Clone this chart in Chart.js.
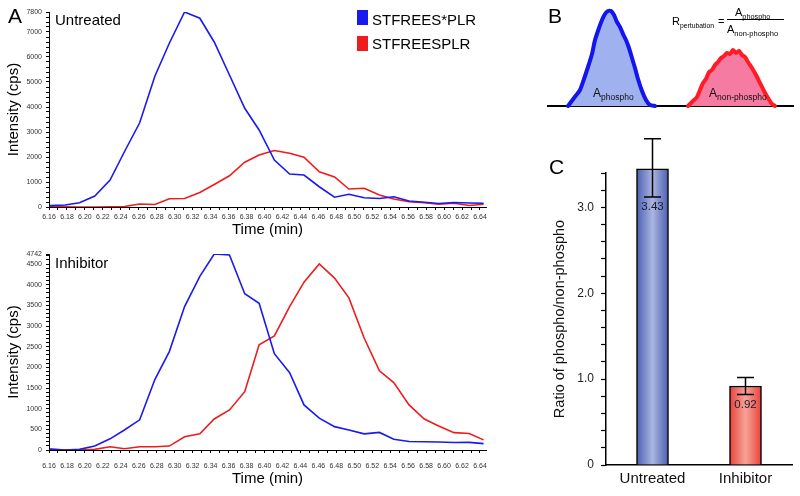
<!DOCTYPE html>
<html><head><meta charset="utf-8">
<script src="https://cdn.jsdelivr.net/npm/chart.js@4.4.1/dist/chart.umd.min.js"></script>
<style>
body{margin:0;background:#fff;}
#wrap{position:relative;width:800px;height:496px;overflow:hidden;background:#fff;font-family:'Liberation Sans',Arial,sans-serif;color:#000;}
canvas{position:absolute;}
.t{position:absolute;white-space:nowrap;line-height:1;}
.s{position:relative;top:3px;}
</style></head><body>
<div id="wrap">
<canvas id="cTop" width="500" height="240" style="left:0;top:0"></canvas>
<canvas id="cBot" width="500" height="256" style="left:0;top:240px"></canvas>
<canvas id="cB" width="260" height="115" style="left:540px;top:0"></canvas>
<canvas id="cC" width="260" height="376" style="left:540px;top:120px"></canvas>

<div class="t" style="left:8px;top:5px;font-size:21px">A</div>
<div class="t" style="left:548px;top:5px;font-size:21px">B</div>
<div class="t" style="left:549px;top:156px;font-size:21px">C</div>
<div class="t" style="left:55px;top:11.5px;font-size:15px">Untreated</div>
<div class="t" style="left:55px;top:255px;font-size:15px">Inhibitor</div>

<div style="position:absolute;left:357px;top:9.5px;width:10.5px;height:15.5px;background:#1a1aee"></div>
<div style="position:absolute;left:357px;top:36px;width:10.5px;height:15px;background:#ee1c1c"></div>
<div class="t" id="lg1" style="left:372px;top:11.5px;font-size:15px"></div>
<div class="t" id="lg2" style="left:372px;top:35.5px;font-size:15px"></div>

<div class="t" style="left:672px;top:16px;font-size:11px">R<span class="s" style="font-size:6.8px">pertubation</span></div>
<div class="t" style="left:718px;top:16px;font-size:11px">=</div>
<div style="position:absolute;left:727px;top:19px;width:57px;height:1px;background:#000"></div>
<div class="t" style="left:735px;top:6.5px;font-size:11px">A<span class="s" style="font-size:7.3px">phospho</span></div>
<div class="t" style="left:727px;top:23.5px;font-size:11px">A<span class="s" style="font-size:7.5px">non-phospho</span></div>

<div class="t" style="left:593px;top:87px;font-size:12px;color:#111">A<span class="s" style="font-size:8.5px">phospho</span></div>
<div class="t" style="left:709px;top:87px;font-size:12px;color:#111">A<span class="s" style="font-size:8.5px">non-phospho</span></div>
</div>
<script>
// ---------- Panel A data ----------
const seriesNames = ['STFREES*PLR', 'STFREESPLR'];
const times = [6.161,6.178,6.194,6.211,6.228,6.244,6.261,6.278,6.294,6.311,6.328,6.344,6.361,6.378,6.394,6.411,6.428,6.444,6.461,6.478,6.494,6.511,6.528,6.544,6.561,6.578,6.594,6.611,6.628,6.644];
const untreatedPhospho = [55,80,170,440,1080,2210,3370,5240,6550,7800,7550,6600,5280,3950,3080,1880,1320,1280,810,390,510,370,340,410,240,190,140,180,160,150];
const untreatedNonPhospho = [20,5,0,0,5,20,120,100,330,340,580,900,1250,1790,2080,2260,2150,1990,1410,1200,720,750,480,320,210,170,110,150,60,110];
const inhibitorPhospho = [25,0,15,95,270,485,730,1710,2380,3470,4200,4742,4720,3780,3550,2330,1870,1090,770,565,485,390,425,260,205,200,195,180,185,155];
const inhibitorNonPhospho = [15,0,0,15,80,30,80,80,95,320,390,750,970,1410,2545,2760,3470,4060,4500,4160,3680,2710,1915,1630,1090,750,580,420,400,245];
const xTickLabels = ['6.16','6.18','6.20','6.22','6.24','6.26','6.28','6.30','6.32','6.34','6.36','6.38','6.40','6.42','6.44','6.46','6.48','6.50','6.52','6.54','6.56','6.58','6.60','6.62','6.64'];
const topYTickLabels = [0,1000,2000,3000,4000,5000,6000,7000,7800];
const botYTickLabels = [0,500,1000,1500,2000,2500,3000,3500,4000,4500,4742];

// ---------- Panel B schematic peaks ----------
const bPhosphoX = [20,26,32,36,40,44,47,51,54,57,60,63,66,69,72,75,78,81,84,87,90,94,98,102,107];
const bPhosphoY = [0,8,16,27,39,52,66,78,86,92,95,95,91,84,79,72,66,58,48,38,27,15,6,1,0];
const bNonPhosphoX = [140,144,149,152,155,158,161,164,167,170,173,176,179,182,185,188,191,194,197,200,204,208,212,216,220,224,227];
const bNonPhosphoY = [0,4,9,16,23,27,34,36,41,44,48,50,53,52,56,53,55,51,49,44,38,31,23,15,8,2,0];

// ---------- Panel C data ----------
const cCategories = ['Untreated','Inhibitor'];
const cRatios = [3.45, 0.92];
const cErrLow = [3.12, 0.82];
const cErrHigh = [3.80, 1.02];
const cValueLabels = ['3.43','0.92'];
const cTickLabels = [0,1,2,3];

const SANS = "'Liberation Sans', Arial, sans-serif";
const NARROW = "'Liberation Sans Narrow', 'Liberation Sans', Arial, sans-serif";
const BLUE = '#1a1aee', RED = '#ee1c1c';

document.getElementById('lg1').textContent = seriesNames[0];
document.getElementById('lg2').textContent = seriesNames[1];

function chroma(id, a, b, yMax, yLabs, yStep, pad, xH, xLabPad, xTitlePad) {
  return new Chart(document.getElementById(id), {
    type: 'line',
    data: { datasets: [
      { label: seriesNames[0], data: times.map((t,i)=>({x:t, y:a[i]})), borderColor: BLUE, borderWidth: 1.6, pointRadius: 0, tension: 0, fill: false },
      { label: seriesNames[1], data: times.map((t,i)=>({x:t, y:b[i]})), borderColor: RED, borderWidth: 1.6, pointRadius: 0, tension: 0, fill: false }
    ]},
    options: {
      responsive: false, animation: false, devicePixelRatio: 1,
      layout: { padding: pad },
      plugins: { legend: { display: false }, tooltip: { enabled: false } },
      scales: {
        x: {
          type: 'linear', min: 6.16, max: 6.6467,
          afterBuildTicks(s) { const arr = []; for (let v = 616; v <= 664; v++) arr.push({ value: v / 100 }); s.ticks = arr; },
          afterFit(s) { s.height = xH; },
          ticks: { autoSkip: false, maxRotation: 0, minRotation: 0, padding: xLabPad, font: { family: NARROW, size: 7 }, color: '#333',
            callback: (v) => { const s = Number(v).toFixed(2); return xTickLabels.includes(s) ? s : ''; } },
          grid: { drawOnChartArea: false, drawTicks: true, tickLength: 3, tickColor: '#000', tickWidth: 1 },
          border: { display: true, color: '#000', width: 1 },
          title: { display: true, text: 'Time (min)', font: { family: SANS, size: 15 }, color: '#000', padding: { top: 0, bottom: xTitlePad } }
        },
        y: {
          min: 0, max: yMax,
          afterBuildTicks(s) { const arr = []; for (let v = 0; v <= yMax; v += yStep) arr.push({ value: v }); if (arr[arr.length-1].value !== yMax) arr.push({ value: yMax }); s.ticks = arr; },
          afterFit(s) { s.width = 49; },
          ticks: { autoSkip: false, padding: 4, font: { family: NARROW, size: 7 }, color: '#333',
            callback: (v) => yLabs.includes(v) ? String(v) : '' },
          grid: { drawOnChartArea: false, drawTicks: true, tickLength: 3, tickColor: '#000', tickWidth: 1 },
          border: { display: true, color: '#000', width: 1 },
          title: { display: true, text: 'Intensity (cps)', font: { family: SANS, size: 15 }, color: '#000', padding: { top: 5, bottom: 0 } }
        }
      }
    }
  });
}

chroma('cTop', untreatedPhospho, untreatedNonPhospho, 7800, topYTickLabels, 200, { top: 12, right: 14, bottom: 0, left: 0 }, 33, 3, 1);
chroma('cBot', inhibitorPhospho, inhibitorNonPhospho, 4742, botYTickLabels, 100, { top: 14, right: 14, bottom: 6, left: 0 }, 40, 9, 2);

// Panel B
new Chart(document.getElementById('cB'), {
  type: 'line',
  data: { datasets: [
    { data: bPhosphoX.map((x,i)=>({x, y:bPhosphoY[i]})), borderColor: '#1414ee', backgroundColor: '#9fb2ef', fill: 'origin', borderWidth: 4, pointRadius: 0, tension: 0.2, clip: false, borderJoinStyle: 'round', borderCapStyle: 'round' },
    { data: bNonPhosphoX.map((x,i)=>({x, y:bNonPhosphoY[i]})), borderColor: '#ff1c24', backgroundColor: '#f57ba2', fill: 'origin', borderWidth: 4, pointRadius: 0, tension: 0.2, clip: false, borderJoinStyle: 'round', borderCapStyle: 'round' }
  ]},
  options: {
    responsive: false, animation: false, devicePixelRatio: 1,
    layout: { padding: { left: 8, right: 7, top: 6, bottom: 9 } },
    plugins: { legend: { display: false }, tooltip: { enabled: false } },
    scales: {
      x: { type: 'linear', min: 0, max: 245, ticks: { display: false }, grid: { display: false },
           border: { display: true, color: '#000', width: 2 }, afterFit(s) { s.height = 0; } },
      y: { min: 0, max: 100, display: false }
    }
  }
});

// Panel C
const errPlugin = {
  id: 'errbars',
  afterDatasetsDraw(chart) {
    const ctx = chart.ctx, y = chart.scales.y, meta = chart.getDatasetMeta(0);
    ctx.save();
    ctx.strokeStyle = '#000'; ctx.lineWidth = 1.5;
    meta.data.forEach((bar, i) => {
      const x = bar.x, yh = y.getPixelForValue(cErrHigh[i]), yl = y.getPixelForValue(cErrLow[i]);
      ctx.beginPath();
      ctx.moveTo(x, yh); ctx.lineTo(x, yl);
      ctx.moveTo(x - 8.5, yh); ctx.lineTo(x + 8.5, yh);
      ctx.moveTo(x - 8.5, yl); ctx.lineTo(x + 8.5, yl);
      ctx.stroke();
      ctx.fillStyle = '#1a1a2e';
      ctx.font = "11.5px " + SANS;
      ctx.textAlign = 'center'; ctx.textBaseline = 'middle';
      ctx.fillText(cValueLabels[i], x, yl + 10);
    });
    ctx.restore();
  }
};
const gradStops = [['#4b5fb0','#aab5e1'], ['#e8413a','#f7a497']];
new Chart(document.getElementById('cC'), {
  type: 'bar',
  data: { labels: cCategories, datasets: [{
    data: cRatios,
    barThickness: 32,
    borderColor: '#000', borderWidth: 1.5,
    clip: false,
    backgroundColor: (c) => {
      const ch = c.chart;
      if (!ch.chartArea || c.dataIndex === undefined || !ch.scales.x) return gradStops[0][0];
      const x = ch.scales.x.getPixelForValue(c.dataIndex);
      const g = ch.ctx.createLinearGradient(x - 16, 0, x + 16, 0);
      const s = gradStops[c.dataIndex];
      g.addColorStop(0, s[0]); g.addColorStop(0.5, s[1]); g.addColorStop(1, s[0]);
      return g;
    }
  }]},
  plugins: [errPlugin],
  options: {
    responsive: false, animation: false, devicePixelRatio: 1,
    layout: { padding: { left: 0, right: 8, top: 53, bottom: 0 } },
    plugins: { legend: { display: false }, tooltip: { enabled: false } },
    scales: {
      x: {
        afterFit(s) { s.height = 31; },
        ticks: { padding: 5, font: { family: SANS, size: 15 }, color: '#111' },
        grid: { display: false, drawTicks: false },
        border: { display: true, color: '#000', width: 1.5 }
      },
      y: {
        min: 0, max: 3.4,
        afterBuildTicks(s) { const arr = []; for (let v = 0; v <= 34; v += 2) arr.push({ value: v / 10 }); s.ticks = arr; },
        afterFit(s) { s.width = 66; },
        ticks: { autoSkip: false, padding: 7, font: { family: SANS, size: 12 }, color: '#222',
          callback: (v) => { const r = Math.round(v * 10) / 10; return cTickLabels.includes(r) ? (r === 0 ? '0' : r.toFixed(1)) : ''; } },
        grid: { drawOnChartArea: false, drawTicks: true, tickLength: 5, tickColor: '#000', tickWidth: 1.2 },
        border: { display: true, color: '#000', width: 1.5 },
        title: { display: true, text: 'Ratio of phospho/non-phospho', font: { family: SANS, size: 14.5 }, color: '#111', padding: { top: 11, bottom: 0 } }
      }
    }
  }
});
</script>
</body></html>
